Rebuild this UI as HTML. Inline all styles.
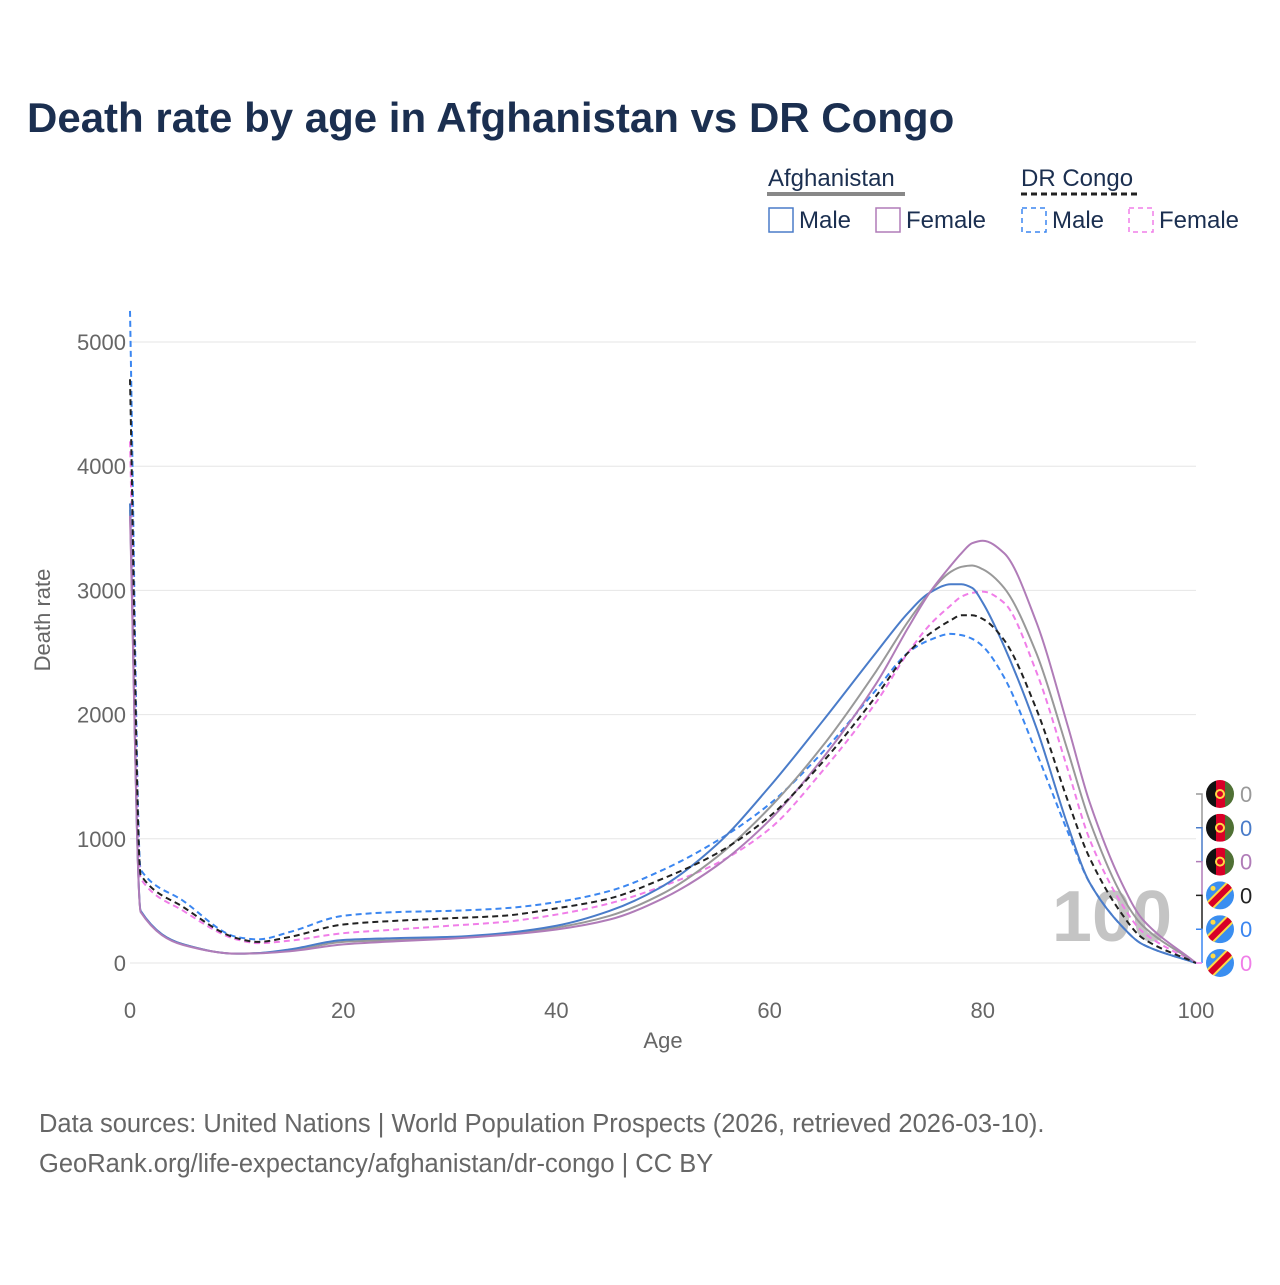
<!DOCTYPE html>
<html><head><meta charset="utf-8"><style>
body{margin:0;background:#fff;width:1280px;height:1280px;overflow:hidden;font-family:"Liberation Sans",sans-serif}
</style></head><body>
<svg id="chart" width="1280" height="1280" xmlns="http://www.w3.org/2000/svg">
<text x="27" y="132" font-size="42" font-weight="bold" fill="#1b2f50">Death rate by age in Afghanistan vs DR Congo</text>
<g font-size="24" fill="#1b2f50">
<text x="768" y="186">Afghanistan</text>
<line x1="767" y1="194" x2="905" y2="194" stroke="#888" stroke-width="4"/>
<rect x="769" y="208" width="24" height="24" fill="none" stroke="#4a7cc9" stroke-width="1.5"/>
<text x="799" y="228">Male</text>
<rect x="876" y="208" width="24" height="24" fill="none" stroke="#b07cb8" stroke-width="1.5"/>
<text x="906" y="228">Female</text>
<text x="1021" y="186">DR Congo</text>
<line x1="1021" y1="194" x2="1138" y2="194" stroke="#222" stroke-width="3" stroke-dasharray="6,4"/>
<rect x="1022" y="208" width="24" height="24" fill="none" stroke="#3b86f0" stroke-width="1.5" stroke-dasharray="5,4"/>
<text x="1052" y="228">Male</text>
<rect x="1129" y="208" width="24" height="24" fill="none" stroke="#f07ee8" stroke-width="1.5" stroke-dasharray="5,4"/>
<text x="1159" y="228">Female</text>
</g>
<g id="grid"></g>
<text x="1112" y="941" font-size="72" font-weight="bold" fill="#c4c4c4" text-anchor="middle">100</text>
<g id="series"></g>
<g id="ends"></g>
<text x="50" y="620" font-size="22" fill="#666" text-anchor="middle" transform="rotate(-90 50 620)">Death rate</text>
<text x="663" y="1048" font-size="22" fill="#666" text-anchor="middle">Age</text>
<text x="39" y="1132" font-size="25.5" fill="#666">Data sources: United Nations | World Population Prospects (2026, retrieved 2026-03-10).</text>
<text x="39" y="1172" font-size="25.5" fill="#666">GeoRank.org/life-expectancy/afghanistan/dr-congo | CC BY</text>
</svg>
<script>
const ages=[0,1,5,10,12,15,20,25,30,35,40,45,50,55,60,65,70,73,75,77,78,79,80,82,85,88,90,93,95,100];
const afgTotal=[3650,415,150,75,80,100,170,185,200,230,285,380,560,850,1250,1750,2350,2750,2980,3150,3190,3200,3170,3020,2500,1700,1150,550,300,0];
const afgMale=[3700,420,150,75,80,110,185,200,210,240,300,420,620,950,1420,1950,2500,2820,2980,3050,3050,3020,2900,2550,1900,1100,650,300,150,0];
const afgFemale=[3600,410,145,75,78,95,150,175,195,225,270,350,520,780,1150,1650,2250,2700,2980,3200,3300,3380,3400,3300,2750,1900,1300,650,350,0];
const drcTotal=[4700,710,450,200,170,210,310,340,360,380,440,520,680,880,1180,1620,2150,2500,2650,2760,2800,2800,2770,2600,2050,1300,850,400,200,0];
const drcMale=[5250,750,500,210,190,250,380,410,420,440,490,580,750,980,1280,1700,2200,2500,2600,2650,2640,2610,2550,2300,1700,1050,650,300,150,0];
const drcFemale=[4200,680,420,190,160,180,240,270,300,330,390,480,620,800,1080,1550,2100,2500,2720,2880,2950,2980,2990,2900,2350,1550,1000,480,250,0];
const yTicks=[0,1000,2000,3000,4000,5000];
const xTicks=[0,20,40,60,80,100];
const NS="http://www.w3.org/2000/svg";
const X=a=>130+a*10.66, Y=v=>963-v*0.1242;
const grid=document.getElementById('grid');
function mk(tag,attrs,parent){const e=document.createElementNS(NS,tag);for(const k in attrs)e.setAttribute(k,attrs[k]);parent.appendChild(e);return e;}
yTicks.forEach(t=>{
  const l=mk('line',{x1:130,x2:1196,y1:Y(t),y2:Y(t),stroke:'#e6e6e6','stroke-width':1},grid);
  
  
  const tx=mk('text',{x:126,y:Y(t)+8,'font-size':22,fill:'#666','text-anchor':'end'},grid);
  tx.textContent=t;
  
  
});
xTicks.forEach(t=>{
  const tx=mk('text',{x:X(t),y:1018,'font-size':22,fill:'#666','text-anchor':'middle'},grid);
  tx.textContent=t;
  
  
});
function monotonePath(xs,ys){
  const n=xs.length,d=[],m=new Array(n);
  for(let i=0;i<n-1;i++)d.push((ys[i+1]-ys[i])/(xs[i+1]-xs[i]));
  m[0]=d[0];m[n-1]=d[n-2];
  for(let i=1;i<n-1;i++){m[i]=(d[i-1]*d[i]<=0)?0:2/(1/d[i-1]+1/d[i]);}
  let p=`M${xs[0]},${ys[0]}`;
  for(let i=0;i<n-1;i++){const h=xs[i+1]-xs[i];
    p+=`C${xs[i]+h/3},${ys[i]+m[i]*h/3} ${xs[i+1]-h/3},${ys[i+1]-m[i+1]*h/3} ${xs[i+1]},${ys[i+1]}`;}
  return p;
}
const series=[
 {name:'drc-male',vals:drcMale,c:'#3b86f0',dash:'6,4'},
 {name:'drc-female',vals:drcFemale,c:'#f07ee8',dash:'6,4'},
 {name:'afg-total',vals:afgTotal,c:'#999',dash:''},
 {name:'afg-male',vals:afgMale,c:'#4a7cc9',dash:''},
 {name:'afg-female',vals:afgFemale,c:'#b07cb8',dash:''},
 {name:'drc-total',vals:drcTotal,c:'#222',dash:'6,4'}
];
const sg=document.getElementById('series');
series.forEach(s=>{
  const p=mk('path',{d:monotonePath(ages.map(X),s.vals.map(Y)),fill:'none',stroke:s.c,'stroke-width':2},sg);
  if(s.dash)p.setAttribute('stroke-dasharray',s.dash);
  
  
});
const ends=document.getElementById('ends');
const endItems=[{c:'#999',f:'afg'},{c:'#4a7cc9',f:'afg'},{c:'#b07cb8',f:'afg'},{c:'#222',f:'drc'},{c:'#3b86f0',f:'drc'},{c:'#f07ee8',f:'drc'}];
endItems.forEach((e,i)=>{
  const y=794+i*33.8;
  const yn=i<5?y+33.8:y;
  mk('path',{d:`M1196,${y} H1202 V${yn}`,stroke:e.c,fill:'none','stroke-width':1.5},ends);
  const g=mk('g',{},ends);
  
  
  const cx=1220,cy=y;
  const cp='cp'+i;
  const cl=mk('clipPath',{id:cp},g);mk('circle',{cx:cx,cy:cy,r:14},cl);
  const fg=mk('g',{'clip-path':`url(#${cp})`},g);
  if(e.f==='afg'){
    mk('rect',{x:cx-14,y:cy-14,width:10,height:28,fill:'#111'},fg);
    mk('rect',{x:cx-4,y:cy-14,width:9,height:28,fill:'#d80027'},fg);
    mk('rect',{x:cx+5,y:cy-14,width:9,height:28,fill:'#4f7034'},fg);
    mk('circle',{cx:cx,cy:cy,r:4,fill:'none',stroke:'#ffda44','stroke-width':2},fg);
  } else {
    mk('rect',{x:cx-14,y:cy-14,width:28,height:28,fill:'#3a8ef0'},fg);
    mk('line',{x1:cx-16,y1:cy+16,x2:cx+16,y2:cy-16,stroke:'#ffda44','stroke-width':10},fg);
    mk('line',{x1:cx-16,y1:cy+16,x2:cx+16,y2:cy-16,stroke:'#d80027','stroke-width':6},fg);
    mk('circle',{cx:cx-7,cy:cy-7,r:2.5,fill:'#ffda44'},fg);
  }
  const t=mk('text',{x:1240,y:y+8,'font-size':22,fill:e.c},ends);
  t.textContent='0';
  
  
});
</script>
</body></html>
